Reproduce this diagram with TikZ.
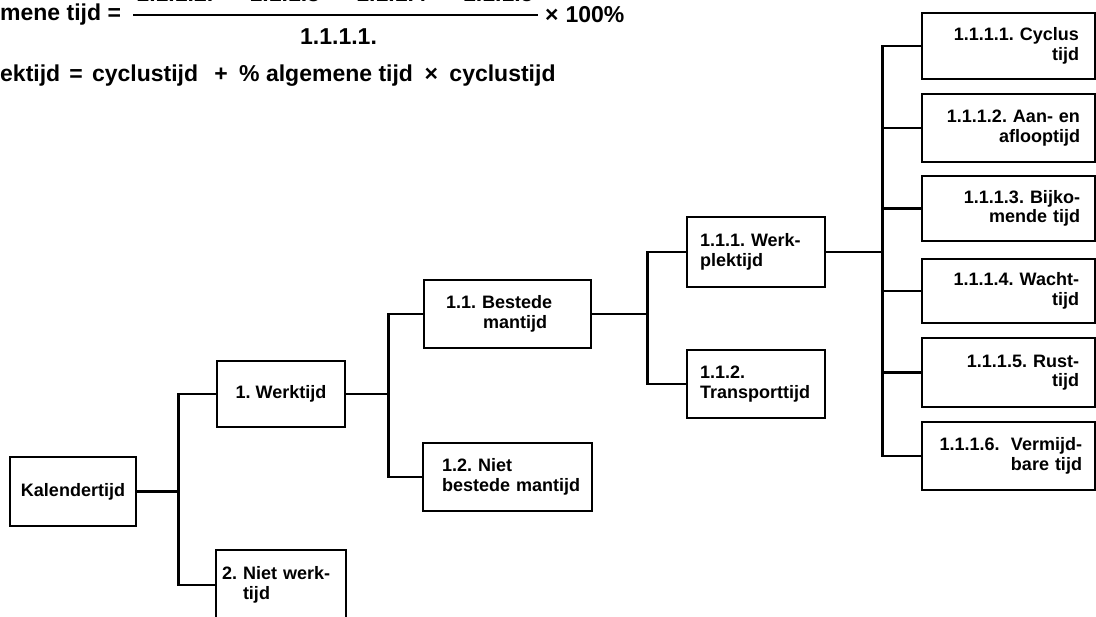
\documentclass[tikz,border=0pt]{standalone}
\usepackage{fontspec}
\setmainfont{Liberation Sans}
\frenchspacing
\hyphenpenalty=10000
\begin{document}
\begin{tikzpicture}[x=1pt,y=-1pt,
  box/.style={draw, line width=2.5pt, inner ysep=0pt, font={\frenchspacing\bfseries\fontsize{18}{19.5}\selectfont}},
  conn/.style={line width=2.5pt},
  formula/.style={inner sep=0pt, font={\frenchspacing\bfseries\fontsize{23}{26}\selectfont}},
  fracbar/.style={line width=1.8pt}]
\useasboundingbox (0,0) rectangle (1096,617);
\clip (0,0) rectangle (1096,617);
\fill[white] (0,0) rectangle (1096,617);

% formula
\node[formula, anchor=base west] (lhs) at (0,21) {mene tijd =};
\coordinate (fa) at (133,15);
\coordinate (fb) at (538,15);
\draw[fracbar] (fa) -- (fb);
\node[formula, anchor=base] (num) at (335,1.5) {1.1.1.2.\hspace{0.5em}+\hspace{0.5em}1.1.1.3\hspace{0.5em}+\hspace{0.5em}1.1.1.4\hspace{0.5em}+\hspace{0.5em}1.1.1.5};
\node[formula, anchor=base west] (den) at (300,45) {1.1.1.1.};
\node[formula, anchor=base west] (pct) at (545,23) {×\hspace{0.3em}100\%};
\node[formula, anchor=base west] (line2) at (0,82) {ektijd\hspace{0.4em}=\hspace{0.4em}cyclustijd\hspace{0.7em}+\hspace{0.5em}\%~algemene tijd\hspace{0.5em}×\hspace{0.5em}cyclustijd};

% boxes
\node[box, minimum width=126pt, minimum height=69pt, align=center] (kal) at (73,491.5) {Kalendertijd};
\node[box, minimum width=128pt, minimum height=66pt, align=center] (werk) at (281,394) {1. Werktijd};
\node[box, minimum height=70pt, inner xsep=6pt, text width=118pt, align=left] (niet) at (281,585) {2. Niet werk-\\\hspace*{21pt}tijd};
\node[box, minimum height=68pt, inner xsep=22pt, text width=123pt, align=left] (best) at (507.5,314) {1.1. Bestede\\\hspace*{37pt}mantijd};
\node[box, minimum height=68pt, inner xsep=11pt, text width=147pt, align=left] (nbest) at (507.5,477) {\hspace*{8pt}1.2. Niet\\\hspace*{8pt}bestede mantijd};
\node[box, minimum height=70pt, inner xsep=13pt, text width=112pt, align=left] (wp) at (756,252) {1.1.1. Werk-\\plektijd};
\node[box, minimum height=68pt, inner xsep=13pt, text width=112pt, align=left] (tr) at (756,384) {1.1.2.\\Transporttijd};

\node[box, minimum height=66pt, inner xsep=16pt, text width=141pt, align=right] (c1) at (1008.5,46) {1.1.1.1. Cyclus\\tijd\hspace*{32pt}};
\node[box, minimum height=68pt, inner xsep=15pt, text width=143pt, align=right] (c2) at (1008.5,128) {1.1.1.2. Aan- en\\aflooptijd};
\node[box, minimum height=65pt, inner xsep=15pt, text width=143pt, align=right] (c3) at (1008.5,208.5) {1.1.1.3. Bijko-\\mende tijd};
\node[box, minimum height=64pt, inner xsep=16pt, text width=141pt, align=right] (c4) at (1008.5,291) {1.1.1.4. Wacht-\\tijd\hspace*{29pt}};
\node[box, minimum height=69pt, inner xsep=16pt, text width=141pt, align=right] (c5) at (1008.5,372.5) {1.1.1.5. Rust-\\tijd\hspace*{19pt}};
\node[box, minimum height=68pt, inner xsep=13pt, text width=147pt, align=right] (c6) at (1008.5,456) {1.1.1.6.\hspace{0.3em} Vermijd-\\bare tijd};

% connectors
\draw[conn] (kal.east) -- ++(41,0) coordinate (k1);
\draw[conn] (werk.west) -| (k1) |- (niet.west);
\draw[conn] (werk.east) -- ++(42,0) coordinate (w1);
\draw[conn] (best.west) -| (w1) |- (nbest.west);
\draw[conn] (best.east) -- ++(55,0) coordinate (b1);
\draw[conn] (wp.west) -| (b1) |- (tr.west);
\draw[conn] (wp.east) -- ++(56,0) coordinate (p1);
\draw[conn] (c1.west) -| (p1) |- (c6.west);
\draw[conn] (c2.west) -- (c2.west -| p1);
\draw[conn] (c3.west) -- (c3.west -| p1);
\draw[conn] (c4.west) -- (c4.west -| p1);
\draw[conn] (c5.west) -- (c5.west -| p1);
\end{tikzpicture}
\end{document}
